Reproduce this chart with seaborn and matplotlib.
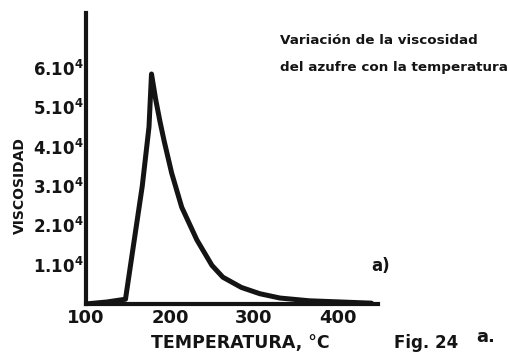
import matplotlib
matplotlib.use("Agg")
import matplotlib.pyplot as plt
import seaborn as sns

# Viscosity of sulfur vs temperature (values in units of 10^4)
temperature = [100, 125, 147, 167, 175, 178, 183, 188, 193, 202, 214, 232, 250, 263,
               285, 307, 331, 366, 440]
viscosity = [0.0, 0.05, 0.12, 3.0, 4.5, 5.85, 5.2, 4.65, 4.15, 3.33, 2.46, 1.63, 0.98, 0.68,
             0.42, 0.26, 0.15, 0.08, 0.02]

x_ticks = [100, 200, 300, 400]
y_ticks = [1, 2, 3, 4, 5, 6]
y_tick_labels = [f"${v}.10^{{4}}$" for v in y_ticks]

sns.set_theme(style="white")
plt.rcParams["font.family"] = ["DejaVu Sans"]
plt.rcParams["mathtext.fontset"] = "dejavusans"
plt.rcParams["mathtext.default"] = "bf"

ink = "#141414"

fig = plt.figure(figsize=(5.09, 3.53), dpi=100)
ax = fig.add_axes([0.169, 0.139, 0.574, 0.824])

sns.lineplot(x=temperature, y=viscosity, color=ink, linewidth=3.6, ax=ax,
             solid_joinstyle="round", solid_capstyle="round")

ax.set_xlim(100, 448)
ax.set_ylim(0, 7.4)
ax.set_xticks(x_ticks)
ax.set_xticklabels([str(t) for t in x_ticks], fontsize=13, fontweight="bold")
ax.set_yticks(y_ticks)
ax.set_yticklabels(y_tick_labels, fontsize=12)

ax.tick_params(axis="y", direction="in", length=5, width=2, pad=2, colors=ink)
ax.tick_params(axis="x", direction="in", length=4, width=2, pad=4, colors=ink)

for side in ["top", "right"]:
    ax.spines[side].set_visible(False)
for side in ["left", "bottom"]:
    ax.spines[side].set_linewidth(3)
    ax.spines[side].set_color(ink)

ax.set_xlabel("")
ax.set_ylabel("")

# axis titles
fig.text(240 / 509, 1 - 343 / 353, "TEMPERATURA, °C", fontsize=12.5, fontweight="heavy",
         ha="center", va="center", color=ink)
fig.text(20 / 509, 1 - 186 / 353, "VISCOSIDAD", fontsize=10, fontweight="heavy",
         rotation=90, ha="center", va="center", color=ink)

# caption in the corner
fig.text(280 / 509, 1 - 40 / 353, "Variación de la viscosidad", fontsize=9.7,
         fontweight="heavy", ha="left", va="center", color=ink)
fig.text(280 / 509, 1 - 67 / 353, "del azufre con la temperatura", fontsize=9.7,
         fontweight="heavy", ha="left", va="center", color=ink)

fig.text(381 / 509, 1 - 266 / 353, "a)", fontsize=12, fontweight="heavy",
         ha="center", va="center", color=ink)
fig.text(426 / 509, 1 - 343 / 353, "Fig. 24", fontsize=12, fontweight="heavy",
         ha="center", va="center", color=ink)
fig.text(486 / 509, 1 - 337 / 353, "a.", fontsize=13, fontweight="heavy",
         ha="center", va="center", color=ink)

fig.savefig("out.png", dpi=100)
